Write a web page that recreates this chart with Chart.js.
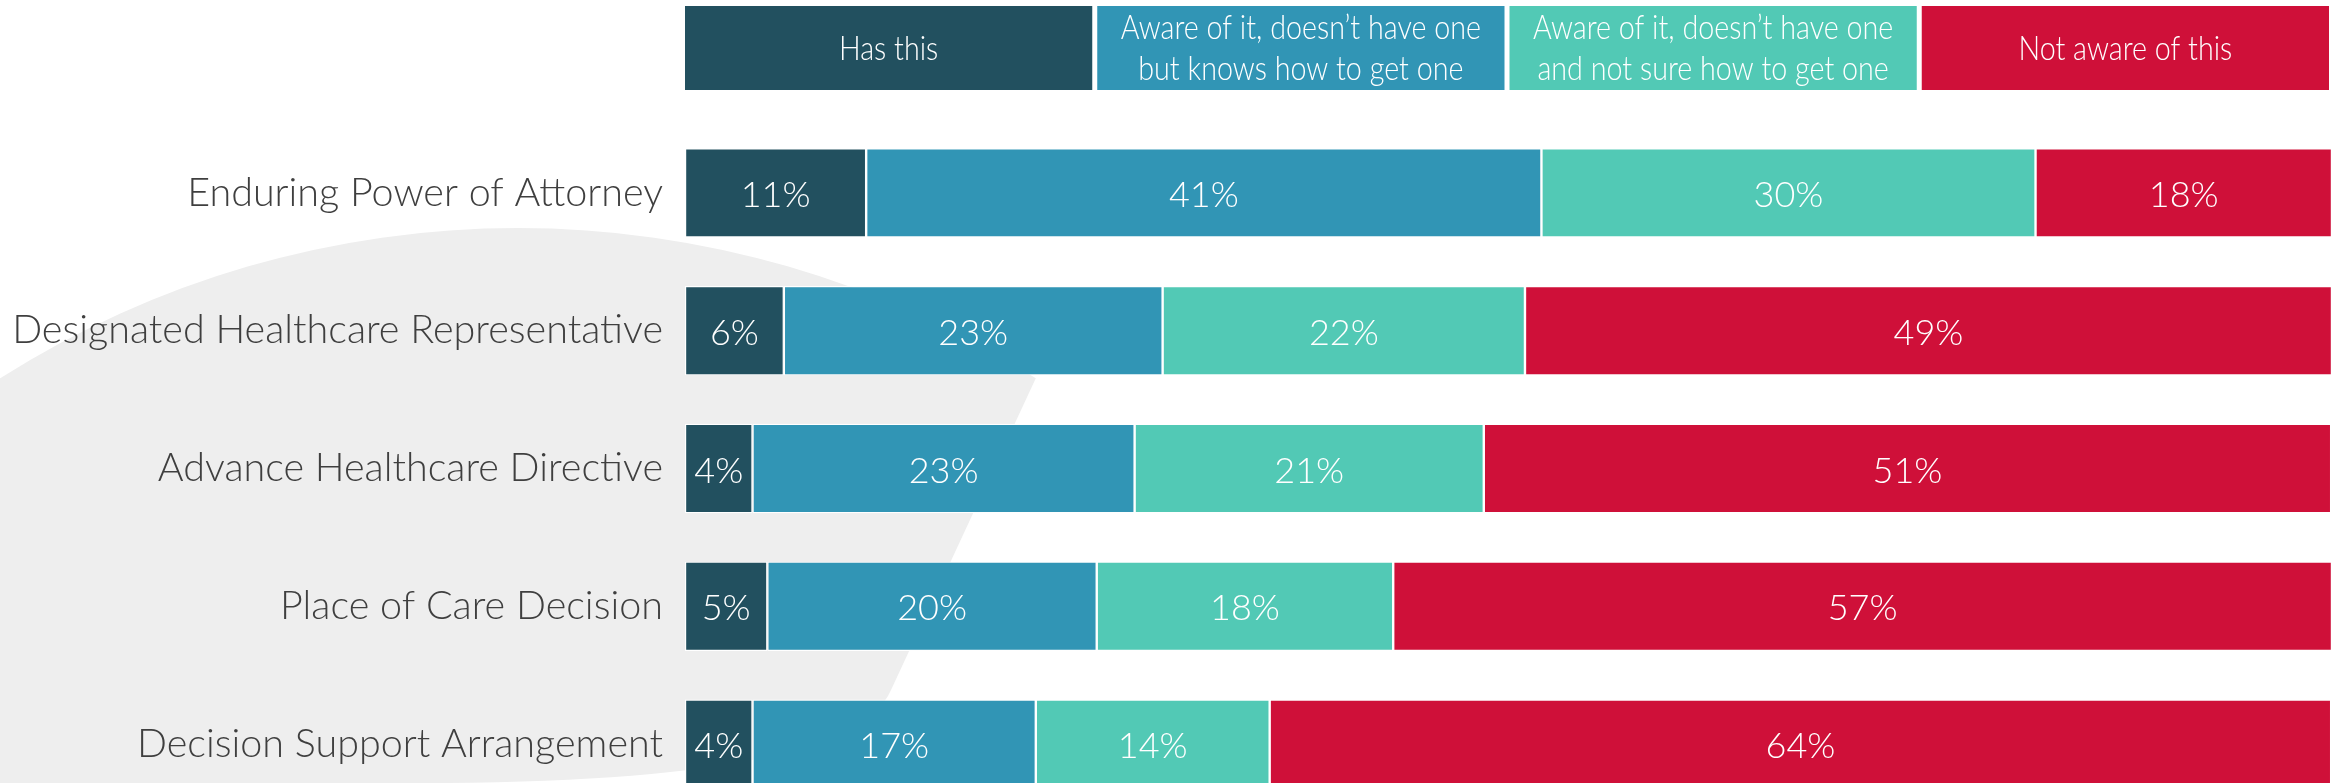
<!DOCTYPE html>
<html><head><meta charset="utf-8">
<script src="https://cdn.jsdelivr.net/npm/chart.js@4.4.1/dist/chart.umd.min.js"></script>
<style>
html,body{margin:0;padding:0;background:#fff;overflow:hidden;width:2341px;height:783px}
#c{position:absolute;left:0;top:0;width:2341px;height:860px}
</style>
</head><body>
<canvas id="c" width="2341" height="860"></canvas>
<script>
const categories = ['Enduring Power of Attorney', 'Designated Healthcare Representative', 'Advance Healthcare Directive', 'Place of Care Decision', 'Decision Support Arrangement'];
const seriesNames = ['Has this', 'Aware of it, doesn\u2019t have one\nbut knows how to get one', 'Aware of it, doesn\u2019t have one\nand not sure how to get one', 'Not aware of this'];
const hasThis      = [11, 6, 4.1, 5, 4.1];
const awareKnows   = [41, 23, 23.2, 20, 17.2];
const awareNotSure = [30, 22, 21.2, 18, 14.2];
const notAware     = [18, 49, 51.45, 57, 64.45];
const seriesColors = ['#22505F', '#3195B5', '#52C9B5', '#CF1039'];
const seriesValues = [hasThis, awareKnows, awareNotSure, notAware];

const FONT = 'Lato';
const CANVAS_H = 860;
const AREA_BOTTOM = 813;

const backdrop = {
  id: 'backdrop',
  beforeDraw(chart) {
    const ctx = chart.ctx;
    ctx.save();
    ctx.fillStyle = '#ffffff';
    ctx.fillRect(0, 0, chart.width, chart.height);
    ctx.fillStyle = '#EEEEEE';
    ctx.beginPath();
    const cx = 518, cy = 1195, r = 967;
    ctx.moveTo(0, 378);
    ctx.arc(cx, cy, r, Math.atan2(378 - cy, 0 - cx), Math.atan2(378 - cy, 1036 - cx));
    ctx.lineTo(891, 690);
    ctx.quadraticCurveTo(850, 785, 402, 783);
    ctx.lineTo(0, 860);
    ctx.closePath();
    ctx.fill();
    ctx.restore();
  }
};

const valueLabels = {
  id: 'valueLabels',
  afterDatasetsDraw(chart) {
    const ctx = chart.ctx;
    ctx.save();
    ctx.fillStyle = '#ffffff';
    ctx.font = '300 36px ' + FONT;
    ctx.textAlign = 'center';
    ctx.textBaseline = 'alphabetic';
    chart.data.datasets.forEach((ds, di) => {
      const meta = chart.getDatasetMeta(di);
      meta.data.forEach((el, i) => {
        const p = el.getProps(['x', 'y', 'base'], true);
        const txt = Math.round(ds.data[i]) + '%';
        ctx.fillText(txt, (p.x + p.base) / 2, p.y + 14);
      });
    });
    ctx.restore();
  }
};

const boxLegend = {
  id: 'boxLegend',
  afterDraw(chart) {
    const ctx = chart.ctx;
    const area = chart.chartArea;
    const n = chart.data.datasets.length;
    const gap = 5, top = 6, h = 84;
    const left = area.left, right = area.right - 3;
    const w = (right - left - gap * (n - 1)) / n;
    ctx.save();
    chart.data.datasets.forEach((ds, i) => {
      const x = left + i * (w + gap);
      ctx.fillStyle = ds.backgroundColor;
      ctx.fillRect(x, top, w, h);
      ctx.fillStyle = '#ffffff';
      ctx.font = '300 33px ' + FONT;
      ctx.textAlign = 'center';
      ctx.textBaseline = 'alphabetic';
      const lines = ds.label.split('\n');
      const ys = lines.length === 1 ? [60] : [39, 80];
      lines.forEach((ln, k) => {
        const mw = ctx.measureText(ln).width * 0.87;
        ctx.fillText(ln, x + w / 2, ys[k], mw);
      });
    });
    ctx.restore();
  }
};

new Chart(document.getElementById('c'), {
  type: 'bar',
  data: {
    labels: categories,
    datasets: seriesNames.map((name, i) => ({
      label: name,
      data: seriesValues[i],
      backgroundColor: seriesColors[i],
      borderColor: '#ffffff',
      borderWidth: 1.2,
      borderSkipped: false,
      barPercentage: 0.8,
      categoryPercentage: 0.81
    }))
  },
  options: {
    indexAxis: 'y',
    responsive: false,
    animation: false,
    layout: { padding: { top: 124, right: 9, bottom: CANVAS_H - AREA_BOTTOM, left: 0 } },
    scales: {
      x: { stacked: true, min: 0, max: 100, display: false },
      y: {
        stacked: true,
        grid: { display: false, drawTicks: false },
        border: { display: false },
        ticks: { color: '#3f3f3f', font: { family: FONT, size: 39.5, weight: '300' }, padding: 22 },
        afterFit: (s) => { s.width = 685; }
      }
    },
    plugins: { legend: { display: false }, tooltip: { enabled: false } }
  },
  plugins: [backdrop, valueLabels, boxLegend]
});
</script>
</body></html>
